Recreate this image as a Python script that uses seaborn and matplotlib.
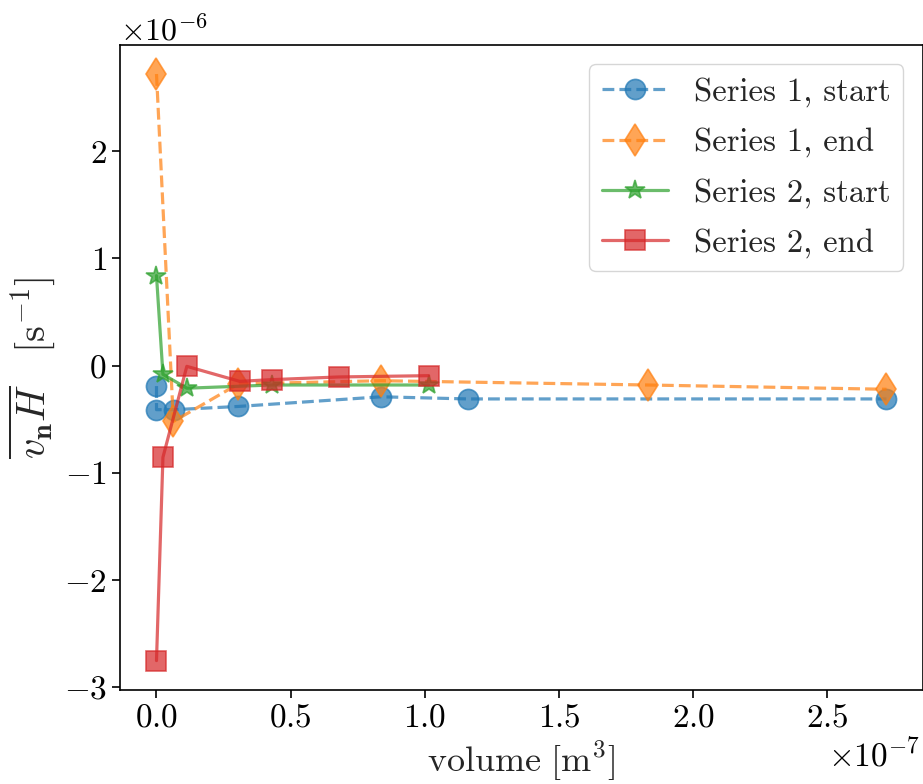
import matplotlib
matplotlib.use("Agg")
import matplotlib.pyplot as plt
import seaborn as sns
import numpy as np

# Volumes (x 1e-7 m^3) and mean normal flux values (x 1e-6 s^-1)
s1_start_vol = [0.0, 0.0, 0.067, 0.305, 0.837, 1.16, 2.72]
s1_start_val = [-0.19, -0.41, -0.41, -0.38, -0.29, -0.31, -0.31]

s1_end_vol = [0.0, 0.063, 0.305, 0.837, 1.83, 2.72]
s1_end_val = [2.72, -0.52, -0.17, -0.14, -0.18, -0.22]

s2_start_vol = [0.0, 0.024, 0.113, 0.43, 1.014]
s2_start_val = [0.84, -0.08, -0.21, -0.18, -0.18]

s2_end_vol = [0.0, 0.024, 0.113, 0.31, 0.43, 0.68, 1.014]
s2_end_val = [-2.75, -0.855, -0.006, -0.146, -0.13, -0.105, -0.093]

labels = ["Series 1, start", "Series 1, end", "Series 2, start", "Series 2, end"]

sns.set_theme(style="ticks")
plt.rcParams.update({
    "font.family": ["cmr10", "DejaVu Serif"],
    "mathtext.fontset": "cm",
    "axes.formatter.use_mathtext": True,
    "axes.unicode_minus": True,
    "font.size": 22,
    "axes.edgecolor": "black",
    "axes.linewidth": 1.2,
    "xtick.color": "black",
    "ytick.color": "black",
    "xtick.major.size": 6,
    "ytick.major.size": 6,
    "xtick.major.width": 1.2,
    "ytick.major.width": 1.2,
})

fig = plt.figure(figsize=(9.23, 7.84), dpi=100)
ax = fig.add_axes([0.130, 0.120, 0.870, 0.823])

series = [
    (s1_start_vol, s1_start_val, "#1f77b4", "o", "--", 14.5),
    (s1_end_vol, s1_end_val, "#ff7f0e", "d", "--", 16.5),
    (s2_start_vol, s2_start_val, "#2ca02c", "*", "-", 14.5),
    (s2_end_vol, s2_end_val, "#d62728", "s", "-", 14.5),
]

for (xs, ys, col, mk, ls, ms), lab in zip(series, labels):
    sns.lineplot(
        x=np.array(xs) * 1e-7, y=np.array(ys) * 1e-6, ax=ax,
        sort=False, estimator=None, color=col, marker=mk, linestyle=ls,
        markersize=ms, linewidth=2.3, alpha=0.7,
        markeredgecolor=col, markeredgewidth=1.2, label=lab,
    )

ax.set_xlabel(r"$\mathrm{volume}\ [\mathrm{m}^3]$", fontsize=26, labelpad=5)
ax.set_ylabel(r"$\overline{v_{\mathbf{n}}H}\quad[\mathrm{s}^{-1}]$", fontsize=29, labelpad=4)
ax.tick_params(labelsize=24)
ax.xaxis.get_offset_text().set_fontsize(24)
ax.xaxis.get_offset_text().set_x(0.997)
ax.yaxis.get_offset_text().set_fontsize(23)

leg = ax.legend(loc="upper right", fontsize=23.5, frameon=True, fancybox=True,
                framealpha=0.8, edgecolor="#cccccc", borderaxespad=0.6,
                labelspacing=0.62)

fig.savefig("out.png", dpi=100)
